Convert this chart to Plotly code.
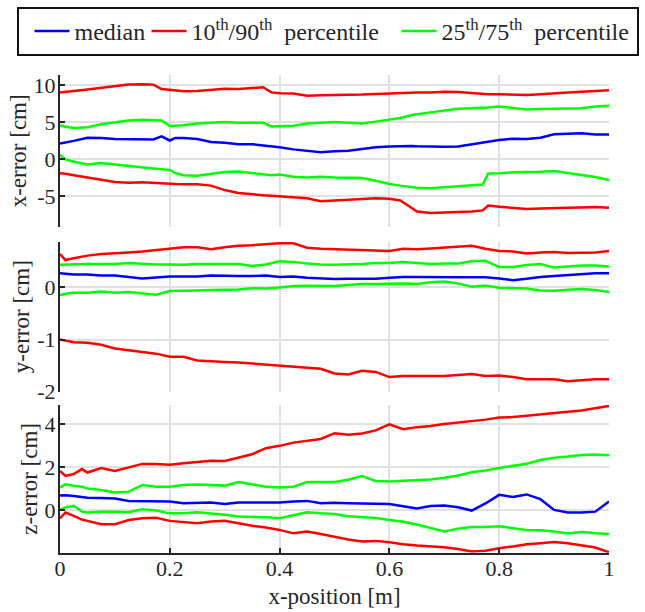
import plotly.graph_objects as go

# ---- x-error panel ----
x_pos_x = [0, 0.01, 0.025, 0.05, 0.075, 0.1, 0.125, 0.15, 0.17, 0.185,
           0.2, 0.21, 0.225, 0.25, 0.275, 0.3, 0.325, 0.35, 0.37, 0.385,
           0.4, 0.425, 0.45, 0.475, 0.5, 0.525, 0.55, 0.575, 0.6, 0.62,
           0.64, 0.65, 0.675, 0.7, 0.725, 0.75, 0.77, 0.78, 0.8, 0.825,
           0.85, 0.875, 0.9, 0.925, 0.95, 0.975, 1.0]
xerr_p90 = [9.0, 9.05, 9.2, 9.4, 9.6, 9.9, 10.05, 10.1, 10.05, 9.45,
            9.35, 9.3, 9.15, 9.2, 9.35, 9.5, 9.45, 9.6, 9.7, 9.0,
            8.9, 8.85, 8.55, 8.6, 8.6, 8.7, 8.7, 8.78, 8.87, 8.95,
            9.0, 9.0, 9.0, 9.1, 9.05, 8.9, 8.76, 8.74, 8.75, 8.72,
            8.65, 8.74, 8.9, 9.0, 9.1, 9.2, 9.3]
xerr_p75 = [4.55, 4.35, 4.2, 4.3, 4.7, 5.0, 5.2, 5.3, 5.25, 5.2,
            4.45, 4.5, 4.55, 4.8, 4.95, 5.0, 4.9, 4.95, 4.9, 4.4,
            4.4, 4.5, 4.8, 4.9, 5.0, 4.9, 4.8, 5.05, 5.35, 5.55,
            5.9, 6.05, 6.3, 6.55, 6.8, 6.85, 6.9, 6.95, 7.1, 6.9,
            6.7, 6.75, 6.75, 6.85, 6.85, 7.1, 7.2]
xerr_median = [2.1, 2.2, 2.45, 2.88, 2.84, 2.7, 2.66, 2.66, 2.65, 3.05,
               2.5, 2.85, 2.85, 2.7, 2.3, 2.2, 2.0, 2.0, 1.85, 1.7,
               1.6, 1.3, 1.12, 0.9, 1.05, 1.12, 1.35, 1.6, 1.7, 1.75,
               1.75, 1.72, 1.67, 1.67, 1.7, 1.98, 2.25, 2.4, 2.57, 2.75,
               2.7, 2.88, 3.33, 3.42, 3.47, 3.3, 3.3]
xerr_p25 = [0.54, -0.05, -0.37, -0.73, -0.55, -0.77, -0.95, -1.22, -1.3, -1.4,
            -1.49, -1.9, -2.2, -2.25, -2.0, -1.76, -1.7, -1.94, -2.15, -2.2,
            -2.1, -2.4, -2.5, -2.4, -2.5, -2.5, -2.57, -2.93, -3.38, -3.6,
            -3.8, -3.87, -3.96, -3.83, -3.65, -3.5, -3.45, -1.95, -1.94, -1.8,
            -1.8, -1.72, -1.63, -1.94, -2.16, -2.43, -2.84]
xerr_p10 = [-1.94, -2.0, -2.2, -2.45, -2.8, -3.1, -3.2, -3.15, -3.25, -3.3,
            -3.35, -3.38, -3.4, -3.42, -3.6, -4.2, -4.6, -4.8, -4.9, -4.97,
            -5.05, -5.18, -5.3, -5.7, -5.65, -5.5, -5.4, -5.3, -5.36, -5.6,
            -6.6, -7.1, -7.3, -7.25, -7.25, -7.1, -6.95, -6.3, -6.44, -6.6,
            -6.77, -6.7, -6.6, -6.6, -6.55, -6.5, -6.6]

# ---- y-error panel ----
y_pos_x = [0, 0.01, 0.025, 0.05, 0.075, 0.1, 0.125, 0.15, 0.175, 0.2,
           0.225, 0.25, 0.275, 0.3, 0.325, 0.35, 0.375, 0.4, 0.425, 0.45,
           0.475, 0.5, 0.525, 0.55, 0.575, 0.6, 0.625, 0.65, 0.675, 0.7,
           0.725, 0.75, 0.775, 0.8, 0.825, 0.85, 0.875, 0.9, 0.925, 0.95,
           0.975, 1.0]
yerr_p90 = [0.64, 0.525, 0.56, 0.61, 0.64, 0.65, 0.67, 0.69, 0.72, 0.74,
            0.77, 0.77, 0.73, 0.77, 0.8, 0.81, 0.825, 0.845, 0.845, 0.76,
            0.74, 0.73, 0.73, 0.72, 0.7, 0.7, 0.74, 0.73, 0.745, 0.76,
            0.78, 0.8, 0.74, 0.7, 0.69, 0.65, 0.67, 0.68, 0.66, 0.66,
            0.67, 0.7]
yerr_p75 = [0.435, 0.44, 0.44, 0.45, 0.45, 0.45, 0.47, 0.45, 0.44, 0.44,
            0.435, 0.45, 0.45, 0.45, 0.45, 0.41, 0.44, 0.5, 0.49, 0.46,
            0.44, 0.435, 0.44, 0.45, 0.47, 0.47, 0.49, 0.47, 0.45, 0.46,
            0.46, 0.5, 0.51, 0.39, 0.39, 0.43, 0.45, 0.38, 0.4, 0.42,
            0.42, 0.4]
yerr_median = [0.27, 0.26, 0.25, 0.25, 0.23, 0.23, 0.2, 0.17, 0.19, 0.21,
               0.21, 0.21, 0.23, 0.22, 0.22, 0.22, 0.23, 0.2, 0.21, 0.185,
               0.17, 0.16, 0.165, 0.165, 0.165, 0.185, 0.2, 0.2, 0.195, 0.195,
               0.195, 0.195, 0.195, 0.17, 0.14, 0.165, 0.2, 0.22, 0.235, 0.25,
               0.27, 0.27]
yerr_p25 = [-0.148, -0.12, -0.1, -0.1, -0.08, -0.1, -0.09, -0.12, -0.14, -0.07,
            -0.07, -0.06, -0.05, -0.05, -0.04, -0.015, -0.02, 0.0, 0.025, 0.03,
            0.025, 0.025, 0.045, 0.064, 0.064, 0.077, 0.077, 0.064, 0.1, 0.115,
            0.077, 0.013, 0.038, -0.006, -0.01, -0.02, -0.06, -0.065, -0.045, -0.03,
            -0.05, -0.09]
yerr_p10 = [-1.0, -1.02, -1.05, -1.06, -1.1, -1.17, -1.2, -1.24, -1.27, -1.33,
            -1.33, -1.4, -1.42, -1.43, -1.44, -1.46, -1.48, -1.5, -1.52, -1.53,
            -1.56, -1.65, -1.67, -1.6, -1.62, -1.72, -1.7, -1.7, -1.7, -1.7,
            -1.68, -1.66, -1.7, -1.69, -1.72, -1.76, -1.76, -1.76, -1.8, -1.78,
            -1.76, -1.76]

# ---- z-error panel ----
z_pos_x = [0, 0.01, 0.025, 0.04, 0.05, 0.075, 0.1, 0.125, 0.15, 0.175,
           0.2, 0.225, 0.25, 0.275, 0.3, 0.325, 0.35, 0.375, 0.4, 0.425,
           0.45, 0.475, 0.5, 0.525, 0.55, 0.575, 0.6, 0.625, 0.65, 0.675,
           0.7, 0.725, 0.75, 0.775, 0.8, 0.825, 0.85, 0.875, 0.9, 0.925,
           0.95, 0.975, 1.0]
zerr_p90 = [1.81, 1.58, 1.67, 1.9, 1.74, 1.95, 1.81, 1.98, 2.14, 2.14,
            2.1, 2.17, 2.23, 2.29, 2.28, 2.43, 2.59, 2.87, 2.98, 3.13,
            3.22, 3.3, 3.57, 3.5, 3.55, 3.7, 3.98, 3.75, 3.85, 3.9,
            4.0, 4.06, 4.15, 4.2, 4.3, 4.32, 4.38, 4.45, 4.5, 4.57,
            4.62, 4.73, 4.84]
zerr_p75 = [1.05, 1.19, 1.12, 1.08, 1.0, 0.93, 0.81, 0.85, 1.16, 1.08,
            1.08, 1.16, 1.18, 1.15, 1.13, 1.3, 1.19, 1.08, 1.04, 1.08,
            1.3, 1.3, 1.3, 1.4, 1.58, 1.35, 1.32, 1.36, 1.38, 1.42,
            1.5, 1.6, 1.75, 1.83, 1.95, 2.04, 2.15, 2.32, 2.43, 2.48,
            2.55, 2.58, 2.54]
zerr_median = [0.67, 0.68, 0.65, 0.6, 0.57, 0.56, 0.53, 0.42, 0.42, 0.39,
               0.39, 0.31, 0.34, 0.35, 0.28, 0.34, 0.35, 0.35, 0.34, 0.39,
               0.42, 0.31, 0.33, 0.31, 0.3, 0.29, 0.28, 0.17, 0.07, 0.18,
               0.2, 0.12, -0.03, 0.3, 0.7, 0.6, 0.72, 0.5, 0.0, -0.12,
               -0.12, -0.08, 0.39]
zerr_p25 = [0.0, 0.12, 0.19, -0.08, -0.12, -0.08, -0.08, -0.11, 0.03, -0.03,
            -0.16, -0.16, -0.11, -0.16, -0.23, -0.31, -0.31, -0.34, -0.39, -0.26,
            -0.11, -0.16, -0.19, -0.29, -0.33, -0.38, -0.47, -0.55, -0.68, -0.85,
            -1.0, -0.87, -0.8, -0.8, -0.76, -0.85, -0.93, -0.95, -1.0, -1.1,
            -1.03, -1.08, -1.12]
zerr_p10 = [-0.39, -0.12, -0.28, -0.45, -0.51, -0.67, -0.67, -0.47, -0.39, -0.36,
            -0.51, -0.57, -0.62, -0.54, -0.5, -0.62, -0.74, -0.82, -0.93, -1.09,
            -1.0, -1.12, -1.25, -1.38, -1.47, -1.44, -1.5, -1.6, -1.66, -1.7,
            -1.74, -1.82, -1.93, -1.9, -1.78, -1.7, -1.6, -1.55, -1.49, -1.55,
            -1.66, -1.75, -1.97]

# tick labels
x_ticks = [0, 0.2, 0.4, 0.6, 0.8, 1]
x_ticktext = ['0', '0.2', '0.4', '0.6', '0.8', '1']
xerr_ticks = [-5, 0, 5, 10]
yerr_ticks = [-2, -1, 0]
zerr_ticks = [0, 2, 4]

BLUE = '#0000ff'
RED = '#ff0000'
GREEN = '#00ff00'
INK = '#262626'
GRID = '#e1e1e1'
FONT = 'Liberation Serif'

legend_names = {'median': 'median',
                'p10': '10<sup>th</sup>/90<sup>th</sup>\u2002percentile',
                'p25': '25<sup>th</sup>/75<sup>th</sup>\u2002percentile'}

fig = go.Figure()

panels = [
    ('', 'y', x_pos_x, xerr_p90, xerr_p75, xerr_median, xerr_p25, xerr_p10),
    ('2', 'y2', y_pos_x, yerr_p90, yerr_p75, yerr_median, yerr_p25, yerr_p10),
    ('3', 'y3', z_pos_x, zerr_p90, zerr_p75, zerr_median, zerr_p25, zerr_p10),
]

for i, (sfx, yax, xs, p90, p75, med, p25, p10) in enumerate(panels):
    first = i == 0
    series = [
        (med, BLUE, 'median', first),
        (p90, RED, 'p10', first),
        (p10, RED, 'p10', False),
        (p75, GREEN, 'p25', first),
        (p25, GREEN, 'p25', False),
    ]
    for ys, color, grp, show in series:
        fig.add_trace(go.Scatter(
            x=xs, y=ys, mode='lines',
            line=dict(color=color, width=2.5),
            name=legend_names[grp], legendgroup=grp, showlegend=show,
            legendwidth={'median': 67, 'p10': 200, 'p25': 190}[grp],
            xaxis='x' + sfx, yaxis=yax))

tick_font = dict(family=FONT, size=22, color=INK)
title_font = dict(family=FONT, size=23, color=INK)

xdom = [60 / 645, 609 / 645]
common_x = dict(domain=xdom, range=[0, 1], tickvals=x_ticks,
                showgrid=True, gridcolor=GRID, gridwidth=2,
                zeroline=False)
common_y = dict(showline=True, linecolor=INK, linewidth=2,
                ticks='inside', ticklen=5, tickwidth=2, tickcolor=INK,
                showgrid=True, gridcolor=GRID, gridwidth=2, zeroline=False,
                tickfont=tick_font, automargin=False, ticklabelstandoff=-2,
                title_font=title_font, title_standoff=1)

fig.update_layout(
    width=645, height=612,
    margin=dict(l=0, r=0, t=0, b=0),
    paper_bgcolor='white', plot_bgcolor='white',
    font=dict(family=FONT, color=INK, size=22),
    showlegend=True,
    legend=dict(orientation='h', x=17 / 645, xanchor='left',
                y=1 - 7 / 612, yanchor='top',
                bordercolor='#111111', borderwidth=2,
                font=dict(family=FONT, size=24, color=INK),
                title=dict(text='\u2002', side='left',
                           font=dict(family=FONT, size=5)),
                itemwidth=35, tracegroupgap=0),
    xaxis=dict(common_x, anchor='y', showticklabels=False, ticks=''),
    xaxis2=dict(common_x, anchor='y2', showticklabels=False, ticks='',
                matches='x'),
    xaxis3=dict(common_x, anchor='y3', matches='x', showline=True,
                linecolor=INK, linewidth=2, ticks='inside', ticklen=5,
                tickwidth=2, tickcolor=INK, ticktext=x_ticktext,
                tickfont=tick_font, automargin=False, ticklabelstandoff=-5,
                title=dict(text='x-position [m]', font=title_font,
                           standoff=8)),
    yaxis=dict(common_y, domain=[1 - 226.7 / 612, 1 - 75 / 612],
               range=[-9.15, 11.35], anchor='x', tickvals=xerr_ticks,
               ticktext=[str(v) for v in xerr_ticks],
               title_text='x-error [cm]'),
    yaxis2=dict(common_y, domain=[1 - 391.7 / 612, 1 - 241.7 / 612],
                range=[-2.0, 0.877], anchor='x2', tickvals=yerr_ticks,
                ticktext=[str(v) for v in yerr_ticks],
                title_text='y-error [cm]'),
    yaxis3=dict(common_y, domain=[1 - 552.7 / 612, 1 - 405 / 612],
                range=[-1.99, 4.88], anchor='x3', tickvals=zerr_ticks,
                ticktext=[str(v) for v in zerr_ticks],
                title_text='z-error [cm]'),
)

fig.write_html('out.html', config={'displayModeBar': False},
               post_script="document.body.style.margin='0';")
